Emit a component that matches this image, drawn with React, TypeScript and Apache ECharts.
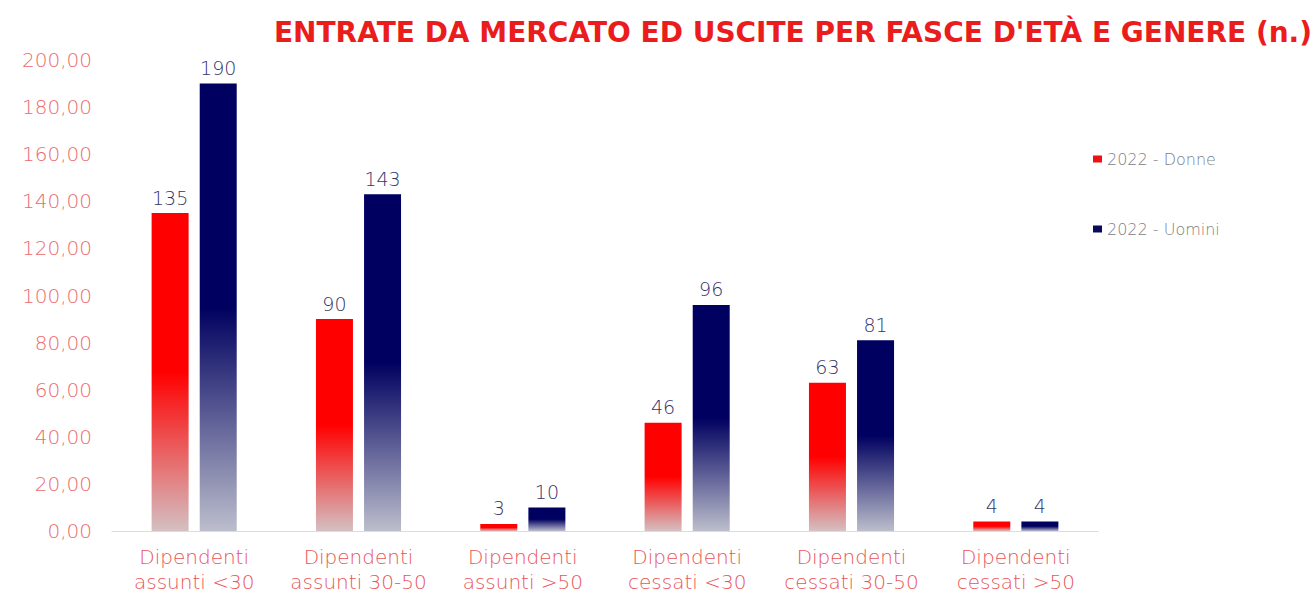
import React, { useEffect, useRef } from "react";
import * as echarts from "echarts";

const titleText = "ENTRATE DA MERCATO ED USCITE PER FASCE D'ETÀ E GENERE (n.)";
const categories = [
  "Dipendenti\nassunti <30",
  "Dipendenti\nassunti 30-50",
  "Dipendenti\nassunti >50",
  "Dipendenti\ncessati <30",
  "Dipendenti\ncessati 30-50",
  "Dipendenti\ncessati >50",
];
const donne = [135, 90, 3, 46, 63, 4];
const uomini = [190, 143, 10, 96, 81, 4];
const seriesNames = ["2022 - Donne", "2022 - Uomini"];

const FONT = "'DejaVu Sans', sans-serif";

function grad(top: string, bottom: string) {
  return new echarts.graphic.LinearGradient(0, 0, 0, 1, [
    { offset: 0, color: top },
    { offset: 0.5, color: top },
    { offset: 1, color: bottom },
  ]);
}

export default function App() {
  const ref = useRef<HTMLDivElement>(null);
  useEffect(() => {
    const chart = echarts.init(ref.current!, undefined, { renderer: "svg" });
    const label = {
      show: true,
      position: "top" as const,
      color: "#34346c",
      fontFamily: FONT,
      fontWeight: 300,
      fontSize: 19,
      distance: 6,
    };
    chart.setOption({
      animation: false,
      backgroundColor: "#ffffff",
      title: {
        text: titleText,
        left: 788,
        textAlign: "center",
        top: 13,
        textStyle: { color: "#ea1c1c", fontFamily: FONT, fontWeight: "bold", fontSize: 28 },
      },
      legend: {
        orient: "vertical",
        left: 1088,
        top: 146,
        itemGap: 54,
        itemWidth: 9,
        itemHeight: 7,
        icon: "rect",
        textStyle: { color: "#808080", fontFamily: FONT, fontWeight: 300, fontSize: 16 },
        data: [
          { name: seriesNames[0], itemStyle: { color: "#ee1111" } },
          { name: seriesNames[1], itemStyle: { color: "#0a0a5a" } },
        ],
      },
      grid: { left: 112, right: 214, top: 60, bottom: 67 },
      xAxis: {
        type: "category",
        data: categories,
        axisTick: { show: false },
        axisLine: { lineStyle: { color: "#dcdcdc" } },
        axisLabel: {
          color: "#e8555a",
          fontFamily: FONT,
          fontWeight: 300,
          fontSize: 20,
          lineHeight: 25,
          margin: 13,
          interval: 0,
        },
      },
      yAxis: {
        type: "value",
        min: 0,
        max: 200,
        interval: 20,
        splitLine: { show: false },
        axisLine: { show: false },
        axisTick: { show: false },
        axisLabel: {
          color: "#ec6a6e",
          fontFamily: FONT,
          fontWeight: 300,
          fontSize: 20,
          margin: 20,
          formatter: (v: number) => v.toFixed(2).replace(".", ","),
        },
      },
      series: [
        {
          name: seriesNames[0],
          type: "bar",
          data: donne,
          barWidth: 37,
          barGap: "30%",
          itemStyle: { color: grad("#ff0000", "#d4c0c2") },
          label,
        },
        {
          name: seriesNames[1],
          type: "bar",
          data: uomini,
          barWidth: 37,
          itemStyle: { color: grad("#000060", "#bcbecc") },
          label,
        },
      ],
    });
    return () => chart.dispose();
  }, []);
  return (
    <div
      ref={ref}
      style={{ position: "fixed", left: 0, top: 0, width: 1312, height: 598 }}
    />
  );
}
